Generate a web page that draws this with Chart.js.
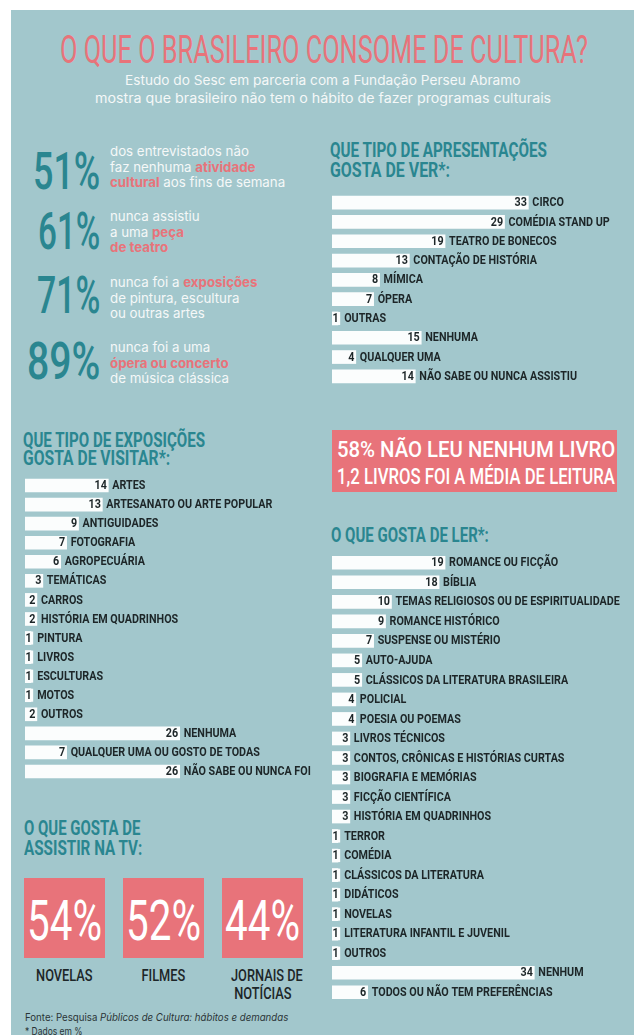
<!DOCTYPE html>
<html lang="pt-BR">
<head>
<meta charset="utf-8">
<title>O que o brasileiro consome de cultura?</title>
<script src="https://cdn.jsdelivr.net/npm/chart.js@4.4.1/dist/chart.umd.min.js"></script>
<style>
  html, body { margin: 0; padding: 0; }
  body { width: 634px; height: 1035px; position: relative; overflow: hidden; background: #fff; font-family: Roboto, sans-serif; }
  #bg { position: absolute; left: 11px; top: 10px; right: 0; bottom: 0; background: #a2c7cc; }
  .abs { position: absolute; white-space: nowrap; }
  .sq { display: inline-block; transform-origin: left center; line-height: 1; }
  .title { font-size: 39px; color: #e8737a; font-weight: 400; }
  .sub { font-family: Inter, sans-serif; font-size: 13px; color: #f5f8f8; }
  .big { font-size: 52px; color: #2a8690; font-weight: 500; }
  .stat { font-family: Inter, sans-serif; font-size: 13.3px; line-height: 15.5px; color: #f5f8f8; }
  .stat b { color: #e8737a; font-weight: 700; }
  .head { font-size: 21px; color: #2a8690; font-weight: 700; }
  .box { position: absolute; background: #e8737a; }
  .boxtxt { font-size: 22px; color: #fff; font-weight: 500; }
  .tvnum { font-size: 56px; color: #fff; font-weight: 400; }
  .tvlab { font-size: 16px; color: #1d2628; font-weight: 500; }
  .foot { font-family: Inter, sans-serif; font-size: 10.5px; color: #2a3436; }
  canvas { position: absolute; }
</style>
</head>
<body>
<div id="bg"></div>

<div class="abs" style="left:60px;top:31px"><span class="sq title" data-w="528">O QUE O BRASILEIRO CONSOME DE CULTURA?</span></div>
<div class="abs" style="left:125px;top:70px"><span class="sq sub" data-w="395">Estudo do Sesc em parceria com a Fundação Perseu Abramo</span></div>
<div class="abs" style="left:95px;top:88px"><span class="sq sub" data-w="456">mostra que brasileiro não tem o hábito de fazer programas culturais</span></div>

<div id="stats"></div>

<div class="abs" style="left:330px;top:140px"><span class="sq head" data-w="217">QUE TIPO DE APRESENTAÇÕES</span></div>
<div class="abs" style="left:330px;top:160px"><span class="sq head" data-w="120">GOSTA DE VER*:</span></div>
<canvas id="apresentacoes" width="302" height="193" style="left:332px;top:193px"></canvas>

<div class="abs" style="left:23px;top:430px"><span class="sq head" data-w="182">QUE TIPO DE EXPOSIÇÕES</span></div>
<div class="abs" style="left:23px;top:448px"><span class="sq head" data-w="147">GOSTA DE VISITAR*:</span></div>
<canvas id="exposicoes" width="300" height="305" style="left:25px;top:476px"></canvas>

<div class="box" style="left:332px;top:430px;width:285px;height:62px"></div>
<div class="abs" style="left:337px;top:439px"><span class="sq boxtxt" data-w="278">58% NÃO LEU NENHUM LIVRO</span></div>
<div class="abs" style="left:337px;top:466px"><span class="sq boxtxt" data-w="278">1,2 LIVROS FOI A MÉDIA DE LEITURA</span></div>

<div class="abs" style="left:331px;top:525px"><span class="sq head" data-w="158">O QUE GOSTA DE LER*:</span></div>
<canvas id="leitura" width="302" height="449" style="left:332px;top:553px"></canvas>

<div class="abs" style="left:24px;top:818px"><span class="sq head" data-w="116">O QUE GOSTA DE</span></div>
<div class="abs" style="left:24px;top:838px"><span class="sq head" data-w="118">ASSISTIR NA TV:</span></div>
<div id="tv"></div>

<div class="abs" style="left:25px;top:1006px"><span class="sq foot" data-w="263">Fonte: Pesquisa <i>Públicos de Cultura: hábitos e demandas</i></span></div>
<div class="abs" style="left:25px;top:1020px"><span class="sq foot" data-w="58">* Dados em %</span></div>

<script>
// --- DATA ---
const statValues = ['51%', '61%', '71%', '89%'];
const statTexts = [
  'dos entrevistados não<br>faz nenhuma <b>atividade</b><br><b>cultural</b> aos fins de semana',
  'nunca assistiu<br>a uma <b>peça</b><br><b>de teatro</b>',
  'nunca foi a <b>exposições</b><br>de pintura, escultura<br>ou outras artes',
  'nunca foi a uma<br><b>ópera ou concerto</b><br>de música clássica'
];

const apresentacoesLabels = ['CIRCO', 'COMÉDIA STAND UP', 'TEATRO DE BONECOS', 'CONTAÇÃO DE HISTÓRIA', 'MÍMICA', 'ÓPERA', 'OUTRAS', 'NENHUMA', 'QUALQUER UMA', 'NÃO SABE OU NUNCA ASSISTIU'];
const apresentacoesValues = [33, 29, 19, 13, 8, 7, 1, 15, 4, 14];

const exposicoesLabels = ['ARTES', 'ARTESANATO OU ARTE POPULAR', 'ANTIGUIDADES', 'FOTOGRAFIA', 'AGROPECUÁRIA', 'TEMÁTICAS', 'CARROS', 'HISTÓRIA EM QUADRINHOS', 'PINTURA', 'LIVROS', 'ESCULTURAS', 'MOTOS', 'OUTROS', 'NENHUMA', 'QUALQUER UMA OU GOSTO DE TODAS', 'NÃO SABE OU NUNCA FOI'];
const exposicoesValues = [14, 13, 9, 7, 6, 3, 2, 2, 1, 1, 1, 1, 2, 26, 7, 26];

const leituraLabels = ['ROMANCE OU FICÇÃO', 'BÍBLIA', 'TEMAS RELIGIOSOS OU DE ESPIRITUALIDADE', 'ROMANCE HISTÓRICO', 'SUSPENSE OU MISTÉRIO', 'AUTO-AJUDA', 'CLÁSSICOS DA LITERATURA BRASILEIRA', 'POLICIAL', 'POESIA OU POEMAS', 'LIVROS TÉCNICOS', 'CONTOS, CRÔNICAS E HISTÓRIAS CURTAS', 'BIOGRAFIA E MEMÓRIAS', 'FICÇÃO CIENTÍFICA', 'HISTÓRIA EM QUADRINHOS', 'TERROR', 'COMÉDIA', 'CLÁSSICOS DA LITERATURA', 'DIDÁTICOS', 'NOVELAS', 'LITERATURA INFANTIL E JUVENIL', 'OUTROS', 'NENHUM', 'TODOS OU NÃO TEM PREFERÊNCIAS'];
const leituraValues = [19, 18, 10, 9, 7, 5, 5, 4, 4, 3, 3, 3, 3, 3, 1, 1, 1, 1, 1, 1, 1, 34, 6];

const tvValues = ['54%', '52%', '44%'];
const tvLabels = [['NOVELAS'], ['FILMES'], ['JORNAIS DE', 'NOTÍCIAS']];

// --- STATIC BLOCKS ---
const statTops = [153, 213, 277, 343];
const statNumLeft = [33, 38, 37, 27];
const statNumW = [67, 62, 63, 73];
const statTextTop = [144, 209, 275, 340];
let html = '';
statValues.forEach((v, i) => {
  html += `<div class="abs" style="left:${statNumLeft[i]}px;top:${statTops[i] - 7}px"><span class="sq big" data-w="${statNumW[i]}">${v}</span></div>`;
  html += `<div class="abs stat" style="left:110px;top:${statTextTop[i]}px">${statTexts[i]}</div>`;
});
document.getElementById('stats').innerHTML = html;

const tvLeft = [24, 123, 222];
html = '';
tvValues.forEach((v, i) => {
  html += `<div class="box" style="left:${tvLeft[i]}px;top:878px;width:81px;height:80px"></div>`;
  html += `<div class="abs" style="left:${tvLeft[i] + 3}px;top:893px"><span class="sq tvnum" data-w="75">${v}</span></div>`;
  tvLabels[i].forEach((t, k) => {
    html += `<div class="abs" style="left:${tvLeft[i]}px;width:81px;top:${966 + k * 18}px;text-align:center"><span class="sq tvlab" data-c="1">${t}</span></div>`;
  });
});
document.getElementById('tv').innerHTML = html;

// squeeze text into condensed widths
document.querySelectorAll('[data-w]').forEach(el => {
  el.style.transform = `scaleX(${el.dataset.w / el.offsetWidth})`;
});
document.querySelectorAll('[data-c]').forEach(el => {
  el.style.transformOrigin = 'center';
  el.style.transform = 'scaleX(0.8)';
});

// --- BAR CHARTS ---
const PX_PER_UNIT = 5.95;
const LABEL_SX = 0.86;

const barLabels = {
  id: 'barLabels',
  afterDatasetsDraw(chart) {
    const ctx = chart.ctx;
    const meta = chart.getDatasetMeta(0);
    const labels = chart.data.labels;
    const values = chart.data.datasets[0].data;
    ctx.save();
    ctx.font = '700 12.5px Roboto';
    ctx.textBaseline = 'middle';
    meta.data.forEach((bar, i) => {
      const num = String(values[i]);
      const nw = ctx.measureText(num).width * LABEL_SX;
      const left = bar.base;
      let end = bar.x;
      if (end - left < nw + 2) {
        end = left + nw + 2;
        ctx.fillStyle = '#fbfdfd';
        ctx.fillRect(left, bar.y - 6.5, end - left, 13);
      }
      ctx.fillStyle = '#1d2628';
      ctx.save();
      ctx.translate(end - 1.5 - nw, bar.y + 0.5);
      ctx.scale(LABEL_SX, 1);
      ctx.fillText(num, 0, 0);
      ctx.restore();
      ctx.save();
      ctx.translate(end + 4, bar.y + 0.5);
      ctx.scale(LABEL_SX, 1);
      ctx.fillText(labels[i], 0, 0);
      ctx.restore();
    });
    ctx.restore();
  }
};

function barChart(id, labels, values) {
  const canvas = document.getElementById(id);
  return new Chart(canvas, {
    type: 'bar',
    data: {
      labels: labels,
      datasets: [{
        data: values,
        backgroundColor: '#fbfdfd',
        borderWidth: 0,
        barThickness: 13
      }]
    },
    options: {
      indexAxis: 'y',
      responsive: false,
      animation: false,
      layout: { padding: 0 },
      plugins: { legend: { display: false }, tooltip: { enabled: false } },
      scales: {
        x: { display: false, min: 0, max: canvas.width / PX_PER_UNIT },
        y: { display: false }
      }
    },
    plugins: [barLabels]
  });
}

barChart('apresentacoes', apresentacoesLabels, apresentacoesValues);
barChart('exposicoes', exposicoesLabels, exposicoesValues);
barChart('leitura', leituraLabels, leituraValues);
</script>
</body>
</html>
